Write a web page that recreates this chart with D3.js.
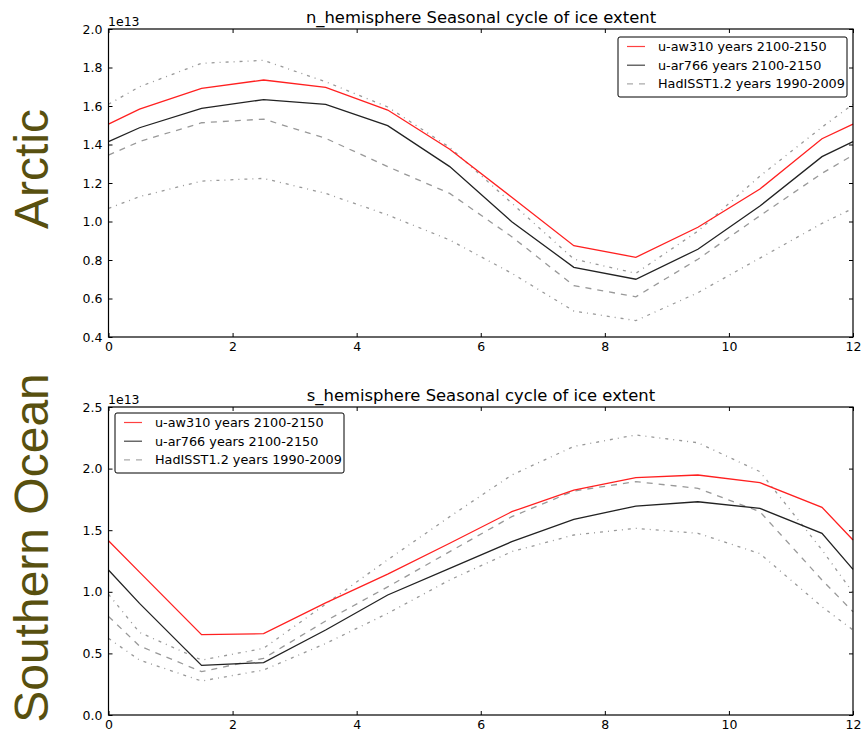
<!DOCTYPE html>
<html>
<head>
<meta charset="utf-8">
<script src="https://cdn.jsdelivr.net/npm/d3@7"></script>
<style>
  body { margin: 0; background: #fff; }
  svg { display: block; }
  .tick text { font-family: "DejaVu Sans", sans-serif; font-size: 12.5px; fill: #000; }
</style>
</head>
<body>
<div id="app"></div>
<script>
// month positions (0 and 12 close the cycle)
const months = [0, 0.5, 1.5, 2.5, 3.5, 4.5, 5.5, 6.5, 7.5, 8.5, 9.5, 10.5, 11.5, 12];

// Arctic, units of 1e13
const nRed = [1.506, 1.584, 1.692, 1.735, 1.697, 1.579, 1.375, 1.126, 0.874, 0.814, 0.970, 1.169, 1.43, 1.506];
const nBlack = [1.415, 1.487, 1.588, 1.633, 1.609, 1.498, 1.285, 0.999, 0.762, 0.700, 0.856, 1.08, 1.337, 1.415];
const nObs = [1.345, 1.415, 1.513, 1.532, 1.432, 1.285, 1.146, 0.921, 0.667, 0.609, 0.804, 1.03, 1.25, 1.345];
const nObsMax = [1.609, 1.70, 1.822, 1.837, 1.726, 1.595, 1.385, 1.095, 0.805, 0.731, 0.95, 1.236, 1.49, 1.609];
const nObsMin = [1.068, 1.129, 1.21, 1.224, 1.146, 1.034, 0.904, 0.731, 0.535, 0.485, 0.63, 0.81, 0.99, 1.068];

// Southern Ocean, units of 1e13
const sRed = [1.415, 1.16, 0.652, 0.660, 0.91, 1.144, 1.394, 1.65, 1.826, 1.926, 1.948, 1.886, 1.686, 1.42];
const sBlack = [1.177, 0.906, 0.403, 0.425, 0.69, 0.974, 1.19, 1.407, 1.588, 1.696, 1.731, 1.677, 1.475, 1.182];
const sObs = [0.80, 0.56, 0.352, 0.46, 0.763, 1.04, 1.326, 1.61, 1.818, 1.894, 1.84, 1.65, 1.096, 0.838];
const sObsMax = [0.98, 0.67, 0.446, 0.541, 0.90, 1.26, 1.61, 1.948, 2.18, 2.273, 2.21, 1.975, 1.34, 0.993];
const sObsMin = [0.622, 0.446, 0.276, 0.365, 0.58, 0.825, 1.096, 1.326, 1.461, 1.515, 1.475, 1.31, 0.879, 0.69];

const xTicks = [0, 2, 4, 6, 8, 10, 12];
const nYTicks = [0.4, 0.6, 0.8, 1.0, 1.2, 1.4, 1.6, 1.8, 2.0];
const sYTicks = [0.0, 0.5, 1.0, 1.5, 2.0, 2.5];
const legendLabels = ["u-aw310 years 2100-2150", "u-ar766 years 2100-2150", "HadISST1.2 years 1990-2009"];

const w = 865;
const h = 733;
const olive = "#58500f";

const svg = d3.select("#app").append("svg").attr("width", w).attr("height", h);

const drawPanel = (p) => {
  const x = d3.scaleLinear().domain([0, 12]).range([108.5, 853]);
  const y = d3.scaleLinear().domain(p.yDomain).range([p.bottom, p.top]);
  const g = svg.append("g");

  //axes with inward ticks on every side
  const fmt = d3.format(".1f");
  g.append("g").attr("transform", `translate(0,${p.bottom})`)
    .call(d3.axisBottom(x).tickValues(xTicks).tickFormat(d3.format("d")).tickSizeInner(-4).tickSizeOuter(0).tickPadding(5));
  g.append("g").attr("transform", `translate(0,${p.top})`)
    .call(d3.axisTop(x).tickValues(xTicks).tickFormat("").tickSizeInner(-4).tickSizeOuter(0));
  g.append("g").attr("transform", "translate(108.5,0)")
    .call(d3.axisLeft(y).tickValues(p.yTicks).tickFormat(fmt).tickSizeInner(-4).tickSizeOuter(0).tickPadding(6));
  g.append("g").attr("transform", "translate(853,0)")
    .call(d3.axisRight(y).tickValues(p.yTicks).tickFormat("").tickSizeInner(-4).tickSizeOuter(0));
  g.selectAll(".domain").remove();
  g.selectAll(".tick line").attr("stroke", "#000");

  //data lines
  const line = d3.line().x((d, i) => x(months[i])).y((d) => y(d));
  const series = [
    { v: p.obsMax, c: "#999", dash: "3,5,1,5" },
    { v: p.obsMin, c: "#999", dash: "3,5,1,5" },
    { v: p.obs, c: "#999", dash: "6,6" },
    { v: p.black, c: "#222", dash: null },
    { v: p.red, c: "#ff2020", dash: null }
  ];
  series.forEach((s) => {
    g.append("path").datum(s.v)
      .attr("d", line)
      .attr("fill", "none")
      .attr("stroke", s.c)
      .attr("stroke-width", 1.3)
      .attr("stroke-dasharray", s.dash);
  });

  //frame
  g.append("rect")
    .attr("x", 108.5).attr("y", p.top)
    .attr("width", 853 - 108.5).attr("height", p.bottom - p.top)
    .attr("fill", "none").attr("stroke", "#000").attr("stroke-width", 1.2);

  //title and offset text
  g.append("text").attr("x", 481).attr("y", p.top - 6)
    .attr("text-anchor", "middle")
    .style("font-family", "DejaVu Sans").style("font-size", "16.4px")
    .text(p.title);
  g.append("text").attr("x", 108).attr("y", p.top - 3)
    .style("font-family", "DejaVu Sans").style("font-size", "12.5px")
    .text("1e13");

  //legend
  const lg = g.append("g").attr("transform", `translate(${p.legend[0]},${p.legend[1]})`);
  lg.append("rect").attr("width", 229).attr("height", 60).attr("rx", 2)
    .attr("fill", "#fff").attr("stroke", "#000").attr("stroke-width", 1);
  const legStyles = [["#ff4040", null], ["#444", null], ["#aaa", "6,6"]];
  legendLabels.forEach((t, i) => {
    const yy = 9.5 + i * 18.7;
    lg.append("line").attr("x1", 9).attr("x2", 27).attr("y1", yy).attr("y2", yy)
      .attr("stroke", legStyles[i][0]).attr("stroke-width", 1.2)
      .attr("stroke-dasharray", legStyles[i][1]);
    lg.append("text").attr("x", 40).attr("y", yy + 4.5)
      .style("font-family", "DejaVu Sans").style("font-size", "12.8px")
      .text(t);
  });

  //row label
  svg.append("text")
    .attr("transform", `translate(48,${p.labelY}) rotate(-90)`)
    .attr("text-anchor", "middle")
    .style("font-family", "Liberation Sans, Arial, sans-serif")
    .style("font-size", "48px")
    .style("fill", olive)
    .text(p.label);
};

drawPanel({
  top: 29, bottom: 337, yDomain: [0.4, 2.0], yTicks: nYTicks,
  red: nRed, black: nBlack, obs: nObs, obsMax: nObsMax, obsMin: nObsMin,
  title: "n_hemisphere Seasonal cycle of ice extent",
  legend: [618, 37], label: "Arctic", labelY: 169
});

drawPanel({
  top: 407, bottom: 715, yDomain: [0, 2.5], yTicks: sYTicks,
  red: sRed, black: sBlack, obs: sObs, obsMax: sObsMax, obsMin: sObsMin,
  title: "s_hemisphere Seasonal cycle of ice extent",
  legend: [115, 413], label: "Southern Ocean", labelY: 548
});
</script>
</body>
</html>
